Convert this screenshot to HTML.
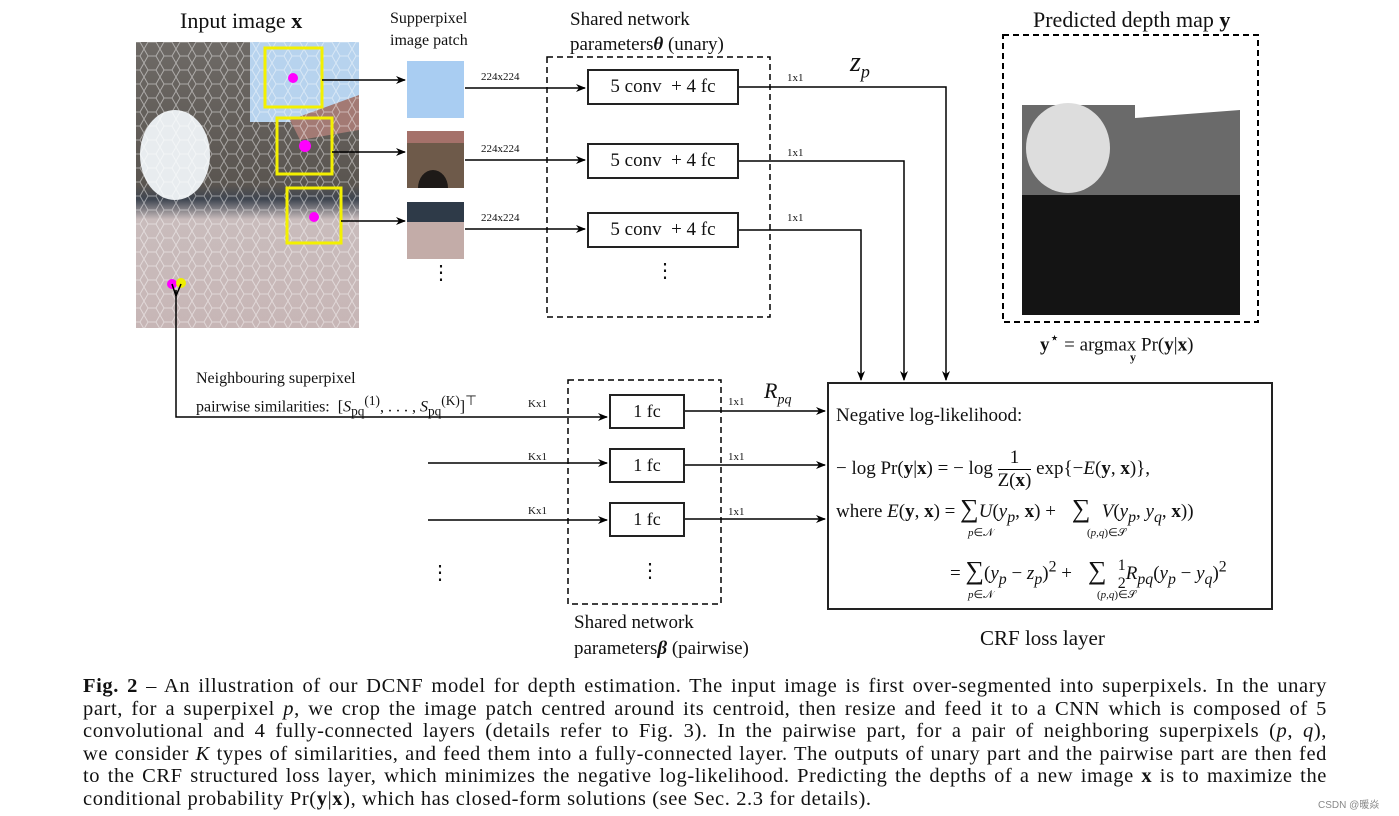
<!DOCTYPE html>
<html><head><style>
body{margin:0;width:1399px;height:816px;background:#fff;position:relative;overflow:hidden;font-family:"Liberation Serif",serif;color:#111}
.a{position:absolute;white-space:nowrap}
.box{position:absolute;border:2px solid #222;background:#fff;box-sizing:border-box;text-align:center;font-size:19px}
.cap{position:absolute;left:83px;top:675px;width:1244px;font-size:20.5px;letter-spacing:0.6px;line-height:22.5px}
.cap div{text-align:justify;text-align-last:justify;white-space:nowrap;overflow:visible}
.cap div.l{text-align-last:left}
</style></head><body>
<svg width="1399" height="816" style="position:absolute;left:0;top:0">
<defs>
<marker id="ar" markerWidth="10" markerHeight="8" refX="9" refY="4" orient="auto" markerUnits="userSpaceOnUse"><path d="M0,0 L10,4 L0,8 L3,4z" fill="#000"/></marker>
<linearGradient id="img" x1="0" y1="0" x2="0" y2="1">
<stop offset="0" stop-color="#6e6a66"/><stop offset="0.5" stop-color="#5a5550"/><stop offset="0.55" stop-color="#3e4550"/><stop offset="0.62" stop-color="#c9bcbc"/><stop offset="1" stop-color="#c7b6b6"/></linearGradient>
<pattern id="hex" width="16" height="14" patternUnits="userSpaceOnUse"><path d="M0,7 L4,0 L12,0 L16,7 L12,14 L4,14 Z" fill="none" stroke="#fff" stroke-opacity="0.45" stroke-width="1"/></pattern>
</defs>
<rect x="136" y="42" width="223" height="286" fill="url(#img)"/>
<rect x="250" y="42" width="109" height="80" fill="#b7d3ee"/>
<path d="M290,120 L359,95 L359,130 L300,140Z" fill="#a37a74"/>
<ellipse cx="175" cy="155" rx="35" ry="45" fill="#e8ecef"/>
<rect x="136" y="42" width="223" height="286" fill="url(#hex)"/>
<g fill="none" stroke="#f3f000" stroke-width="3">
<rect x="265" y="48" width="57" height="59"/><rect x="277" y="118" width="55" height="56"/><rect x="287" y="188" width="54" height="55"/></g>
<g fill="#f0f"><circle cx="293" cy="78" r="5"/><circle cx="305" cy="146" r="6"/><circle cx="314" cy="217" r="5"/><circle cx="172" cy="284" r="5"/></g>
<circle cx="181" cy="283" r="5" fill="#ee0"/>
<rect x="407" y="61" width="57" height="57" fill="#a9cdf2"/>
<rect x="407" y="131" width="57" height="57" fill="#6e5a4a"/><rect x="407" y="131" width="57" height="12" fill="#a5716a"/><path d="M418,188 A15,18 0 0 1 448,188Z" fill="#1e1a18"/>
<rect x="407" y="202" width="57" height="57" fill="#c3aca8"/><rect x="407" y="202" width="57" height="20" fill="#2e3a48"/>
<g stroke="#000" stroke-width="1.5" fill="none">
<line x1="322" y1="80" x2="405" y2="80" marker-end="url(#ar)"/>
<line x1="332" y1="152" x2="405" y2="152" marker-end="url(#ar)"/>
<line x1="341" y1="221" x2="405" y2="221" marker-end="url(#ar)"/>
<line x1="465" y1="88" x2="585" y2="88" marker-end="url(#ar)"/>
<line x1="465" y1="160" x2="585" y2="160" marker-end="url(#ar)"/>
<line x1="465" y1="229" x2="585" y2="229" marker-end="url(#ar)"/>
<polyline points="739,87 946,87 946,380" marker-end="url(#ar)"/>
<polyline points="739,161 904,161 904,380" marker-end="url(#ar)"/>
<polyline points="739,230 861,230 861,380" marker-end="url(#ar)"/>
<polyline points="176,290 176,417 607,417" marker-end="url(#ar)"/>
<line x1="172" y1="284" x2="176" y2="296"/><line x1="181" y1="284" x2="176" y2="296"/>
<line x1="428" y1="463" x2="607" y2="463" marker-end="url(#ar)"/>
<line x1="428" y1="520" x2="607" y2="520" marker-end="url(#ar)"/>
<line x1="685" y1="411" x2="825" y2="411" marker-end="url(#ar)"/>
<line x1="685" y1="465" x2="825" y2="465" marker-end="url(#ar)"/>
<line x1="685" y1="519" x2="825" y2="519" marker-end="url(#ar)"/>
<rect x="547" y="57" width="223" height="260" stroke-dasharray="6,4"/>
<rect x="568" y="380" width="153" height="224" stroke-dasharray="6,4"/>
<rect x="1003" y="35" width="255" height="287" stroke-dasharray="6,4" stroke-width="2"/>
</g>
<rect x="1022" y="50" width="218" height="265" fill="#fff"/>
<rect x="1022" y="105" width="218" height="90" fill="#6a6a6a"/>
<path d="M1135,50 L1240,50 L1240,110 L1135,118Z" fill="#fff"/>
<ellipse cx="1068" cy="148" rx="42" ry="45" fill="#ddd"/>
<rect x="1022" y="195" width="218" height="120" fill="#141414"/>
</svg>
<div class="a" style="left:180px;top:8px;font-size:22px">Input image <b>x</b></div>
<div class="a" style="left:390px;top:8px;font-size:16px;line-height:22px">Supperpixel<br>image patch</div>
<div class="a" style="left:570px;top:7px;font-size:19px;line-height:25px">Shared network<br>parameters<b><i>θ</i></b> (unary)</div>
<div class="a" style="left:1033px;top:7px;font-size:22px">Predicted depth map <b>y</b></div>
<div class="a" style="left:1040px;top:328px;font-size:19px"><b>y</b><sup>⋆</sup> = argmax Pr(<b>y</b>|<b>x</b>)</div>
<div class="a" style="left:1130px;top:350px;font-size:12px"><b>y</b></div>
<div class="a" style="left:431px;top:260px;font-size:20px">⋮</div>
<div class="a" style="left:655px;top:258px;font-size:20px">⋮</div>
<div class="a" style="left:481px;top:71px;font-size:11px">224x224</div>
<div class="a" style="left:481px;top:143px;font-size:11px">224x224</div>
<div class="a" style="left:481px;top:212px;font-size:11px">224x224</div>
<div class="a" style="left:787px;top:72px;font-size:11px">1x1</div>
<div class="a" style="left:787px;top:147px;font-size:11px">1x1</div>
<div class="a" style="left:787px;top:212px;font-size:11px">1x1</div>
<div class="a" style="left:850px;top:47px;font-size:28px;font-style:italic">z<sub style="font-size:18px">p</sub></div>
<div class="a" style="left:764px;top:378px;font-size:22px;font-style:italic">R<sub style="font-size:14px">pq</sub></div>
<div class="box" style="left:587px;top:69px;width:152px;height:36px;line-height:32px">5 conv &nbsp;+ 4 fc</div>
<div class="box" style="left:587px;top:143px;width:152px;height:36px;line-height:32px">5 conv &nbsp;+ 4 fc</div>
<div class="box" style="left:587px;top:212px;width:152px;height:36px;line-height:32px">5 conv &nbsp;+ 4 fc</div>
<div class="a" style="left:196px;top:368px;font-size:16px;line-height:22px">Neighbouring superpixel<br>pairwise similarities: &nbsp;[<i>S</i><sub>pq</sub><sup>(1)</sup>, . . . , <i>S</i><sub>pq</sub><sup>(K)</sup>]<sup>⊤</sup></div>
<div class="a" style="left:528px;top:398px;font-size:11px">Kx1</div>
<div class="a" style="left:528px;top:451px;font-size:11px">Kx1</div>
<div class="a" style="left:528px;top:505px;font-size:11px">Kx1</div>
<div class="a" style="left:728px;top:396px;font-size:11px">1x1</div>
<div class="a" style="left:728px;top:451px;font-size:11px">1x1</div>
<div class="a" style="left:728px;top:506px;font-size:11px">1x1</div>
<div class="box" style="left:609px;top:394px;width:76px;height:35px;line-height:31px;font-size:18px">1 fc</div>
<div class="box" style="left:609px;top:448px;width:76px;height:35px;line-height:31px;font-size:18px">1 fc</div>
<div class="box" style="left:609px;top:502px;width:76px;height:35px;line-height:31px;font-size:18px">1 fc</div>
<div class="a" style="left:430px;top:560px;font-size:20px">⋮</div>
<div class="a" style="left:640px;top:558px;font-size:20px">⋮</div>
<div class="a" style="left:574px;top:610px;font-size:19px;line-height:26px">Shared network<br>parameters<b><i>β</i></b> (pairwise)</div>
<div class="box" style="left:827px;top:382px;width:446px;height:228px;border-width:2.5px"></div>
<div class="a" style="left:836px;top:405px;font-size:19px">Negative log-likelihood:</div>
<div class="a" style="left:836px;top:447px;font-size:19px">− log Pr(<b>y</b>|<b>x</b>) = − log <span style="display:inline-block;vertical-align:middle;text-align:center;line-height:22px"><span style="display:block;border-bottom:1px solid #000">1</span>Z(<b>x</b>)</span> exp{−<i>E</i>(<b>y</b>, <b>x</b>)},</div>
<div class="a" style="left:836px;top:494px;font-size:19px">where <i>E</i>(<b>y</b>, <b>x</b>) = <span style="font-size:26px">∑</span><i>U</i>(<i>y<sub>p</sub></i>, <b>x</b>) + &nbsp;<span style="font-size:26px">&nbsp;∑&nbsp;</span> <i>V</i>(<i>y<sub>p</sub></i>, <i>y<sub>q</sub></i>, <b>x</b>))</div>
<div class="a" style="left:968px;top:526px;font-size:11px"><i>p</i>∈𝒩</div>
<div class="a" style="left:1087px;top:526px;font-size:11px">(<i>p,q</i>)∈𝒮</div>
<div class="a" style="left:950px;top:556px;font-size:19px">= <span style="font-size:26px">∑</span>(<i>y<sub>p</sub></i> − <i>z<sub>p</sub></i>)<sup>2</sup> + &nbsp;<span style="font-size:26px">&nbsp;∑&nbsp;</span> <span style="display:inline-block;vertical-align:middle;text-align:center;line-height:18px;font-size:16px">1<br>2</span><i>R<sub>pq</sub></i>(<i>y<sub>p</sub></i> − <i>y<sub>q</sub></i>)<sup>2</sup></div>
<div class="a" style="left:968px;top:588px;font-size:11px"><i>p</i>∈𝒩</div>
<div class="a" style="left:1097px;top:588px;font-size:11px">(<i>p,q</i>)∈𝒮</div>
<div class="a" style="left:980px;top:626px;font-size:21px">CRF loss layer</div>
<div class="cap">
<div><b>Fig. 2</b> – An illustration of our DCNF model for depth estimation. The input image is first over-segmented into superpixels. In the unary</div>
<div>part, for a superpixel <i>p</i>, we crop the image patch centred around its centroid, then resize and feed it to a CNN which is composed of 5</div>
<div>convolutional and 4 fully-connected layers (details refer to Fig. 3). In the pairwise part, for a pair of neighboring superpixels (<i>p</i>, <i>q</i>),</div>
<div>we consider <i>K</i> types of similarities, and feed them into a fully-connected layer. The outputs of unary part and the pairwise part are then fed</div>
<div>to the CRF structured loss layer, which minimizes the negative log-likelihood. Predicting the depths of a new image <b>x</b> is to maximize the</div>
<div class="l">conditional probability Pr(<b>y</b>|<b>x</b>), which has closed-form solutions (see Sec. 2.3 for details).</div>
</div>
<div class="a" style="left:1318px;top:796px;font-size:10px;color:#888;font-family:'Liberation Sans','Noto Sans CJK SC',sans-serif">CSDN @暖焱</div>
</body></html>
